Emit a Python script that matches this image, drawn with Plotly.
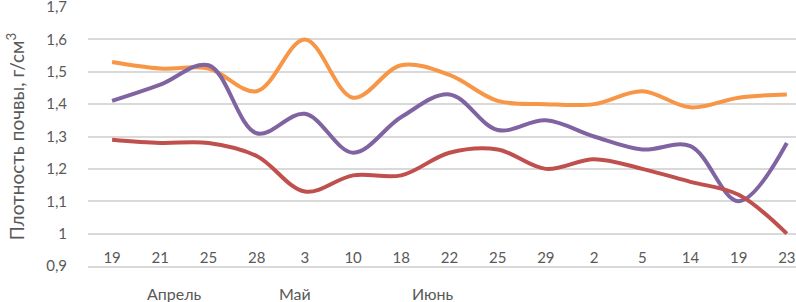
import plotly.graph_objects as go

day_labels = ["19", "21", "25", "28", "3", "10", "18", "22", "25", "29", "2", "5", "14", "19", "23"]
orange_vals = [1.53, 1.51, 1.51, 1.44, 1.60, 1.42, 1.52, 1.49, 1.41, 1.40, 1.40, 1.44, 1.39, 1.42, 1.43]
purple_vals = [1.41, 1.46, 1.52, 1.31, 1.37, 1.25, 1.36, 1.43, 1.32, 1.35, 1.30, 1.26, 1.27, 1.10, 1.28]
red_vals = [1.29, 1.28, 1.28, 1.24, 1.13, 1.18, 1.18, 1.25, 1.26, 1.20, 1.23, 1.20, 1.16, 1.12, 1.00]
month_labels = ["Апрель", "Май", "Июнь"]
month_pos = [1.3, 3.8, 6.65]

x_idx = list(range(len(day_labels)))
FONT = "Lato"
GRAY = "#595959"

fig = go.Figure()
for vals, color in [(orange_vals, "#F79646"), (purple_vals, "#8064A2"), (red_vals, "#C0504D")]:
    fig.add_trace(go.Scatter(
        x=x_idx, y=vals, mode="lines",
        line=dict(color=color, width=4, shape="spline", smoothing=1.0),
        showlegend=False, hoverinfo="skip",
    ))

for lab, pos in zip(month_labels, month_pos):
    fig.add_annotation(x=pos, y=0, xref="x", yref="paper", yshift=-27,
                       text=lab, showarrow=False, yanchor="middle",
                       font=dict(family=FONT, size=16, color=GRAY))

fig.update_layout(
    width=796, height=302,
    margin=dict(l=88, r=0, t=7, b=36, autoexpand=False),
    paper_bgcolor="white", plot_bgcolor="white",
    separators=", ",
    font=dict(family=FONT, size=15, color=GRAY),
)
fig.update_xaxes(
    range=[-0.5, 14.19], automargin=False,
    tickmode="array", tickvals=x_idx, ticktext=day_labels,
    ticklabelposition="inside", ticks="", ticklabeloverflow="allow",
    showgrid=False, showline=True, linecolor="#D9D9D9", linewidth=1.5,
    zeroline=False,
    tickfont=dict(family=FONT, size=15, color=GRAY),
)
fig.update_yaxes(
    range=[0.9, 1.7], dtick=0.1, tick0=0.9, automargin=False,
    showgrid=True, gridcolor="#D9D9D9", gridwidth=1.5,
    zeroline=False, showline=False, ticks="", ticklabeloverflow="allow",
    ticklabelstandoff=20,
    tickfont=dict(family=FONT, size=15, color=GRAY),
    title=dict(text="Плотность почвы, г/см<sup>3</sup>", standoff=16,
               font=dict(family=FONT, size=19, color=GRAY)),
)

fig.write_html("out.html", config={"displayModeBar": False},
               post_script="document.body.style.margin='0';document.body.style.overflow='hidden';")
